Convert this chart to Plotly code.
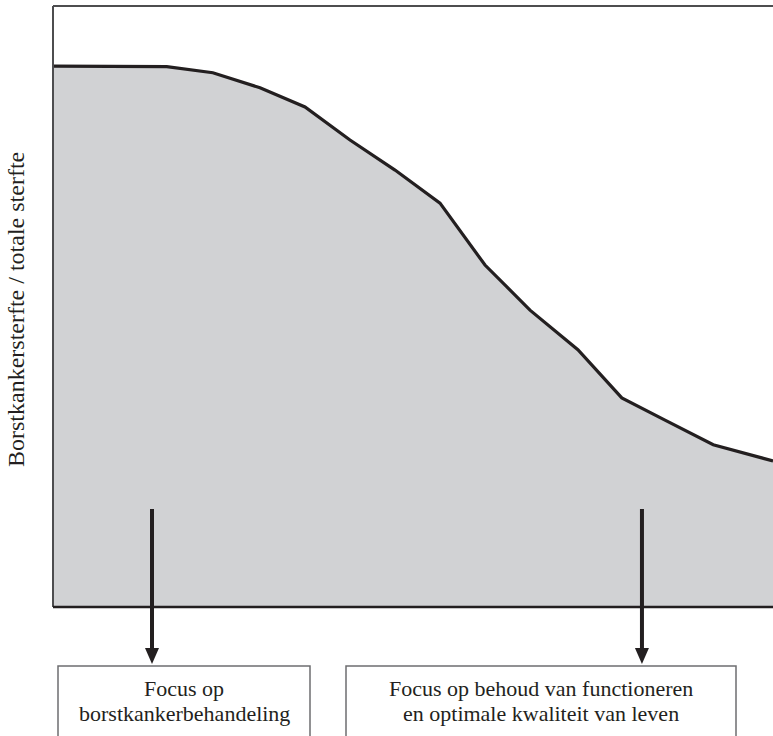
import plotly.graph_objects as go

# ---- data (abstract time axis 0-100, ratio 0-1) ----
tijd = [0, 10.3, 15.8, 22.2, 28.75, 35, 41.25, 47.5, 53.75, 60, 66.25, 72.9, 79, 85, 91.7, 100]
ratio = [0.900, 0.900, 0.899, 0.889, 0.864, 0.832, 0.777, 0.727, 0.672, 0.569,
         0.494, 0.428, 0.348, 0.311, 0.270, 0.243]
focus_x = [13.75, 81.8]
focus_labels = [["Focus op", "borstkankerbehandeling"],
                ["Focus op behoud van functioneren", "en optimale kwaliteit van leven"]]
y_title = "Borstkankersterfte / totale sterfte"

W, H = 773, 736
L = 53
TOP, BOT = 6, 607
FONT = "Liberation Serif"
FS = 22

def px(x):
    return x / W

def py(y):
    return 1 - y / H

fig = go.Figure()
fig.add_trace(go.Scatter(
    x=tijd, y=ratio, mode="lines", fill="tozeroy",
    fillcolor="#d1d2d4", line=dict(color="#231f20", width=3.2),
    hoverinfo="skip", showlegend=False))

fig.update_layout(
    width=W, height=H, margin=dict(l=0, r=0, t=0, b=0),
    paper_bgcolor="white", plot_bgcolor="white",
    xaxis=dict(domain=[px(L), 1.0], range=[0, 100], visible=False, fixedrange=True),
    yaxis=dict(domain=[py(BOT), py(TOP)], range=[0, 1], visible=False, fixedrange=True),
    showlegend=False,
)

shapes = []
# frame: left, top, bottom
shapes.append(dict(type="line", xref="paper", yref="paper", x0=px(L), x1=px(L),
                   y0=py(BOT), y1=py(TOP), line=dict(color="#4d4d4f", width=2)))
shapes.append(dict(type="line", xref="paper", yref="paper", x0=px(L), x1=1.0,
                   y0=py(TOP), y1=py(TOP), line=dict(color="#4d4d4f", width=2)))
shapes.append(dict(type="line", xref="paper", yref="paper", x0=px(L), x1=1.0,
                   y0=py(BOT), y1=py(BOT), line=dict(color="#231f20", width=2.5)))

# arrows
for fx in focus_x:
    shapes.append(dict(type="line", xref="x", yref="paper", x0=fx, x1=fx,
                       y0=py(509), y1=py(650), line=dict(color="#231f20", width=4)))
    xc = L + fx * (W - L) / 100.0
    path = f"M {px(xc-7)},{py(648)} L {px(xc+7)},{py(648)} L {px(xc)},{py(664)} Z"
    shapes.append(dict(type="path", xref="paper", yref="paper", path=path,
                       fillcolor="#231f20", line=dict(color="#231f20", width=0)))

# boxes
boxes = [(58, 310), (346, 736)]
for (bx0, bx1) in boxes:
    shapes.append(dict(type="rect", xref="paper", yref="paper",
                       x0=px(bx0), x1=px(bx1), y0=-0.05, y1=py(666),
                       line=dict(color="#6d6e70", width=1.5), fillcolor="rgba(0,0,0,0)"))

fig.update_layout(shapes=shapes)

annotations = []
for (bx0, bx1), lines in zip(boxes, focus_labels):
    for yy, txt in zip([688, 713], lines):
        annotations.append(dict(xref="paper", yref="paper", x=px((bx0 + bx1) / 2), y=py(yy),
                                text=txt, showarrow=False, align="center",
                                xanchor="center", yanchor="middle",
                                font=dict(family=FONT, size=FS, color="#231f20")))
annotations.append(dict(xref="paper", yref="paper", x=px(16), y=py(310),
                        text=y_title, showarrow=False, textangle=-90,
                        xanchor="center", yanchor="middle",
                        font=dict(family=FONT, size=24, color="#231f20")))
fig.update_layout(annotations=annotations)

fig.write_html("out.html", config={"displayModeBar": False},
               post_script="document.body.style.margin='0';")
